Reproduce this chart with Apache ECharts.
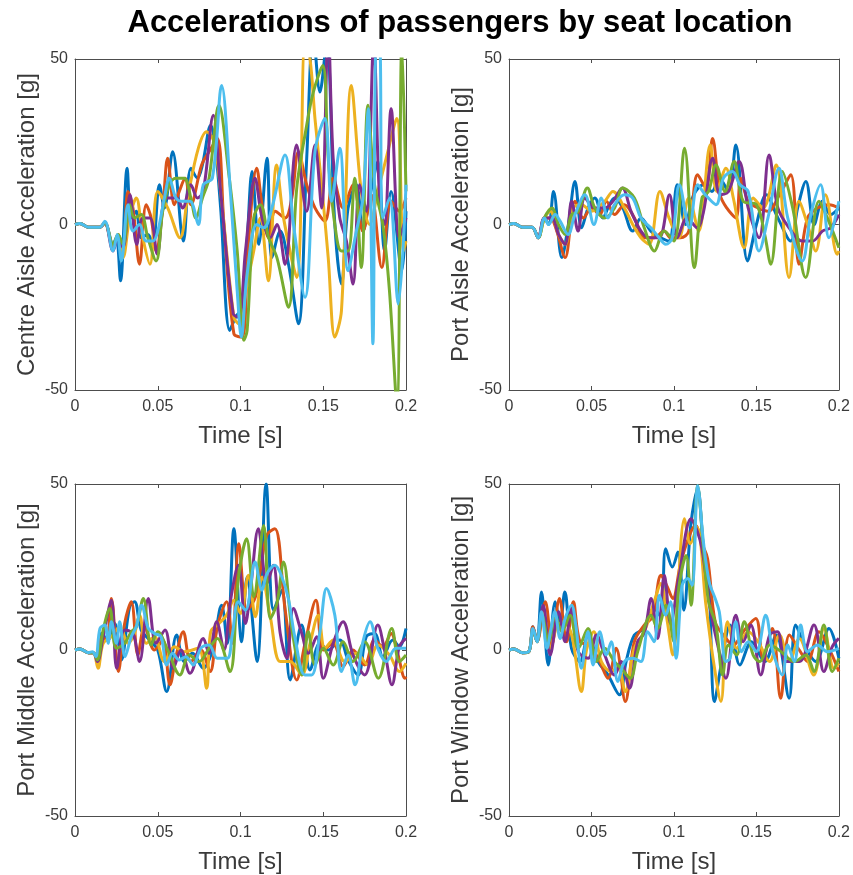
<!DOCTYPE html>
<html>
<head>
<meta charset="utf-8">
<title>Accelerations of passengers by seat location</title>
<script src="https://cdn.jsdelivr.net/npm/echarts@6/dist/echarts.min.js"></script>
<style>
	html, body { margin: 0; padding: 0; background: #fff; }
	#box { width: 853px; height: 875px; }
</style>
</head>
<body>
<div id="box"></div>
<script>
// points are [time in ms, acceleration in g]
var centreBlue = [[0,0],[3,0.3],[8,-0.8],[15,-0.8],[18,0.5],[23,-6],[25,-4],[27.5,-17],[31.5,17],[34,2],[37,4],[40,-4],[44,-3],[47,-6],[51,12],[54,5],[59,22],[65.5,-5],[70,17],[74,14],[77,18],[82,30],[85,22],[88,5],[93.5,-32],[97,-28],[101,-25],[104,-5],[107,16],[111,-6],[116,20],[119,-10],[124,-2],[129,-12],[135,-30],[140,20],[144,58],[148,40],[152,55],[157,0],[161,-18],[165,5],[170,12],[174,-2],[178,8],[183,19],[187,-8],[191,10],[197.5,-14],[200,4]];
var centreOrange = [[0,0],[3,0.3],[8,-0.8],[15,-0.8],[18,0.5],[23,-7],[26,-3],[29,-9],[32,10],[35,5],[39,-12],[43,6],[46,2],[49,-8],[53,5],[56,20],[60,6],[63,10],[66.5,14],[70,6],[76.5,18],[81,22],[86,26],[90,0],[96,-33],[101,-34],[104.7,-6],[109.8,17],[113,6],[117,-4],[121,4],[127,2],[131,8],[135,22],[140,12],[145,5],[151,1],[156,14],[162,5],[168,12],[174,-2],[179,9],[185.4,-13],[191,7],[196,4],[200,8]];
var centreYellow = [[0,0],[3,0.3],[8,-0.8],[15,-0.8],[18,0.5],[23,-7],[26,-3],[29,-10],[33,2],[37,8],[41,-4],[45.3,-12],[50,10],[56,5],[63.4,-4],[68,8],[74.5,23],[79.5,28],[84,25],[88,10],[96,-28],[99,-30],[104,-18],[108,-8],[112,2],[116.8,-17],[121.8,18],[126,2],[134,-16],[139,55],[142,50],[145,32],[149,12],[153,-10],[157,-34],[161,-26],[167,42],[173,10],[178,0],[183,10],[188,20],[194.4,32],[198.5,-8],[200,-5]];
var centrePurple = [[0,0],[3,0.3],[8,-0.8],[15,-0.8],[18,0.5],[23,-8],[26,-4],[29,-7],[33.2,9],[37.3,-6],[41,2],[45.3,2],[49.7,-9],[55,8],[61.4,8],[65,5],[70,12],[74,8],[77.5,10],[83.6,33],[88,10],[95.6,-27],[99,-28],[103,-8],[108.8,14],[113,2],[118,-4],[122,0],[126.9,-12],[133.9,24],[140,4],[145,24],[149,5],[153,58],[156,20],[160,2],[164,-5],[168,-18],[172,12],[176,4],[180.5,55],[184,8],[187,0],[191,35],[196,-4],[200,2]];
var centreGreen = [[0,0],[3,0.3],[8,-0.8],[15,-0.8],[18,0.5],[23,-6],[26,-3],[29,-6],[33,6],[36,2],[40,3],[44,-4],[49,-11],[53,4],[57,12],[61,14],[66,14],[70,8],[73,2],[77,8],[81,14],[87,36],[93,15],[98,-8],[102,-35],[104,-32],[108,2],[112,6],[117,-4],[122,-10],[129,-25],[134,11],[140,30],[144,40],[149.7,48],[153,20],[157,0],[161,-8],[165,-8],[169,14],[173,-13],[177,36],[181,12],[186,0],[190,-20],[194.5,-55],[197.5,55],[200,10]];
var centreCyan = [[0,0],[3,0.3],[8,-0.8],[15,-0.8],[18,1],[23,-8],[25.5,-3],[28,-11],[32,6],[35,-2],[39,0],[43,-5],[47,-5],[50,-2],[54,8],[57,14],[61,8],[65,7],[69.5,7],[74.5,0],[77.5,12],[83,14],[88.6,42],[94,9],[98,-20],[100.5,-34],[104,-15],[109.8,0],[114,-1],[119,5],[126.9,21],[132,0],[139,-22],[145,22],[151,32],[155,7],[160,23],[165,-14],[170,-2],[174,8],[177.2,35],[180,-36],[182,55],[184,55],[186,2],[190,8],[195.3,-24],[200,12]];

var aisleBlue = [[0,0],[3,0.3],[8,-0.8],[14,-0.8],[17.7,-4],[21.5,2],[24,0],[27,10],[32,-10],[36,0],[40,13],[44,-1],[48,5],[52,8],[57,2],[60,5],[64,8],[69,5],[75,-2],[80,2],[86,-2],[92,-4],[97,-5],[102,12],[107,0],[112,9],[118,12],[123,10],[127.5,14],[133,10],[137.5,24],[144.6,-11],[150,0],[156,9],[163,2],[170.8,-5],[175,5],[180,13],[185,0],[190,7],[195,3],[200,5]];
var aisleOrange = [[0,0],[3,0.3],[8,-0.8],[14,-0.8],[17.7,-4],[21.5,2],[25,2],[29,-2],[34,-10],[40,7],[45,2],[50,5],[55,3],[59,7],[64,3],[70,6],[76,2],[82,-4],[88,-4],[94,-2],[98,-4],[104,-4],[109,-2],[114.4,15],[119.4,11],[123.4,26],[128,9],[132,5],[137.5,2],[140.5,14],[145,7],[151,5],[157,4],[164,9],[170.8,15],[175.8,-12],[181,2],[187,5],[194,6],[200,5]];
var aisleYellow = [[0,0],[3,0.3],[8,-0.8],[14,-0.8],[17.7,-4],[21.5,2],[25,4],[30,-3],[34,-6],[39,5],[44,6],[50,4],[58,7],[63,10],[70,5],[75,0],[80,-4],[85,-6],[91.5,10],[97,2],[103,-4],[109,8],[115,-2],[122,24],[126,10],[131.5,17],[136,8],[142.6,-7],[148,8],[154,5],[162,18],[169.8,-16],[175.8,7],[181,0],[186,-8],[191.9,9],[199,-9],[200,-8]];
var aislePurple = [[0,0],[3,0.3],[8,-0.8],[14,-0.8],[17.7,-4],[21.5,2],[26,2],[30,-3],[34,-6],[38,7],[41.9,-2],[46,8],[52,5],[58,5],[63,7],[68.7,11],[74,4],[80,-2],[85,-4],[91,-4],[97.3,9],[102,-4],[108,2],[114,-1],[118,4],[123.5,20],[128,9],[133,10],[139.5,19],[145,5],[151.6,-4],[157.7,21],[163,5],[169.8,-1],[177.8,-5],[184,-5],[190,-2],[195,-1],[200,3]];
var aisleGreen = [[0,0],[3,0.3],[8,-0.8],[14,-0.8],[17.7,-4],[21.5,2],[26,5],[30,0],[34,-3],[38,3],[42,4],[47.5,11],[52,5],[58,2],[64,5],[69,11],[76,8],[82,-1],[88.2,-8],[94,-2],[100,-5],[106.4,23],[112.4,-13],[117,8],[121,10],[125.5,18],[131,10],[136.5,19],[142,7],[150,6],[155,-3],[158.7,-12],[165.7,16],[172,5],[179.9,-16],[187.9,7],[193,2],[200,-7]];
var aisleCyan = [[0,0],[3,0.3],[8,-0.8],[14,-0.8],[17.7,-4],[21.5,2],[24,0],[28,3],[31,1],[35.8,-3],[40,3],[46,9],[51.5,0],[56,8],[60,2],[64,6],[70,9],[75,8],[80,2],[86,-1],[91,-4],[95,-6],[99,-4],[103.3,12],[109.4,-1],[114.4,12],[119,9],[125.5,6],[130,14],[135.5,16],[140,12],[145,10],[151.6,-8],[157,2],[163.7,17],[169,2],[177.8,-11],[183,3],[188.9,12],[194,-4],[200,7]];

var middleBlue = [[0,0],[3,0.3],[8,-0.8],[11,-0.8],[13,-2],[16,5],[20,3],[24,8],[28,-3],[33,13],[36,14.5],[40,6],[45,3],[50,0],[55.4,-12.5],[61.4,4.5],[66,-3.5],[71,-1],[77.5,-5.5],[83,0],[88.6,13.5],[92,2],[96,36.5],[100.7,2.5],[104,22],[110,-3.5],[115.5,50],[120,12],[125,18],[130,-9],[137,7.5],[142,-6],[148,2],[153,0],[160,3],[165,-3],[171,-7.5],[176,4],[181,5],[186,-2],[192,3],[196,1],[200,6.5]];
var middleOrange = [[0,0],[3,0.3],[8,-0.8],[11,-0.8],[13,-2],[16,4],[19,3],[22,15.5],[26.2,-6.5],[30,8],[34,14.5],[38,-1.5],[42,7],[48,0],[53,3],[57.4,-10.5],[61,-2],[65.4,5.5],[70,-3.5],[76,0],[81.6,-6.5],[86,7],[91.6,14.5],[95,2],[99,32],[104,12],[109,16],[115.8,34.5],[120.8,36.5],[127,12],[134,-9],[139,2],[145.6,15],[150,0],[156,2],[162,-5],[168,0],[175,-4.5],[181,3],[186,1],[191,5],[195,-1],[199.4,-8.5],[200,-8]];
var middleYellow = [[0,0],[3,0.3],[8,-0.8],[11,-0.8],[13.9,-5.5],[17,2],[22,4],[27,7],[32,2],[36,5],[39,10.5],[43,2],[48,4],[54,-3.5],[60,1],[66,-0.5],[74.5,0.5],[79.5,-11.5],[82,5.5],[87,8],[91.6,10.5],[96,15],[100,11],[104.8,22.5],[109,10],[113,22],[118,10],[124,-3.5],[130,-3.5],[137,-7.5],[142,2],[147,10.5],[151,0.5],[156,3],[163,-3.5],[170,-1],[177,-4.5],[183,1.5],[190,-1.5],[196,-6.5],[200,-4]];
var middlePurple = [[0,0],[3,0.3],[8,-0.8],[11,-0.8],[13.5,-3.5],[17,4],[22,15],[25.2,-5.5],[30,6],[35,5],[39,-3.5],[44.3,15.5],[49,2],[54.4,6],[59.4,-5.5],[64,0],[69.5,-7],[77.5,3.5],[81,-1],[85.6,8.5],[90,0],[94,15],[98.7,25.5],[103,8],[106,18],[110.8,36.5],[116,20],[119.8,25.5],[124,5],[128,-2.5],[132,12.5],[137,5],[141,-1],[146,4],[150,-8.5],[156,2],[162,8.5],[168,-1.5],[175,-7.5],[183,7.5],[187,0],[191.5,-10.5],[196,1],[200,3.5]];
var middleGreen = [[0,0],[3,0.3],[8,-0.8],[11,-0.8],[13.5,-3],[17,6],[21,12.5],[25,0.5],[30,2],[34,5.5],[37,7],[41.3,15.5],[46,1.5],[50,5.5],[56,0],[63.4,-7.5],[69,-1.5],[75,-3.5],[81,0.5],[86,3.5],[93.6,-6.5],[98.7,21.5],[103.7,33.5],[108,16],[114,37.5],[118,9.5],[122,14],[126,26.5],[131,6.5],[137,-7.5],[141,5.5],[145,-4.5],[150,0.5],[156,-4.5],[162,2.5],[168,-3.5],[175,2.5],[183.3,-8.5],[191.4,6.5],[196,-3.5],[200,-1.5]];
var middleCyan = [[0,0],[3,0.3],[8,-0.8],[10.5,-0.5],[12.6,-2],[15.1,6.5],[18.1,7.5],[20,2],[22,8.5],[25,2],[27,8.5],[30.2,-2],[34,4],[37,7],[40.3,13.5],[44.3,6.5],[48,5],[52,4],[55.4,-4.5],[59,-1],[63,-3],[67,-2],[71.5,-4.5],[76,0.5],[81,1.5],[86,-2.5],[92,-2.5],[95,4.5],[98.7,14.5],[103,12],[108.8,26.5],[113,18],[116,23],[120.8,25.5],[125,22],[128.9,15.5],[133,3.5],[138.9,-7.5],[143,-7.5],[148,5.5],[152,18.5],[157,10.5],[161,-6.5],[165,-1.5],[169.2,-10.5],[174,2.5],[178.3,8.5],[183,0.5],[188,-3.5],[194,0.5],[200,0.5]];

var windowBlue = [[0,0],[3,0.3],[8,-0.8],[12,-0.5],[14.5,7],[17,2.5],[19.7,17.5],[23.8,-4.5],[28,14.5],[31,8],[33.8,17.5],[37.9,0.5],[43,-3.5],[48,4.5],[54,-3.5],[60,-7.5],[67,-13.5],[71,-3.5],[76,4.5],[82,6.5],[88,12.5],[92,10],[95,30.5],[99,25],[102.4,29.5],[106,12],[110.4,38.5],[114.4,48.5],[118,30],[121,22],[124.6,-15.5],[129,-3.5],[134,7.5],[140,-4.5],[147,2.5],[155,-3.5],[162,4.5],[169.8,-14.5],[173.8,7.5],[180,0.5],[186,-3.5],[194,6.5],[200,-2.5]];
var windowOrange = [[0,0],[3,0.3],[8,-0.8],[12,-0.5],[14.5,7],[17,2.5],[22,14.5],[26,1.5],[30.6,15.5],[35,2.5],[39,14.5],[43,2.5],[49,1.5],[55,-3.5],[60,-8.5],[65,0.5],[70.5,-15.5],[76,2.5],[82,7.5],[87,10],[92.2,22.5],[96,19],[99.3,15.5],[104,26],[109.4,34.5],[113,37.5],[117,32],[120.4,27.5],[125,8.5],[130,4.5],[136,1.5],[142,5.5],[149.6,9.5],[154,-2.5],[159.7,6.5],[164.7,-14.5],[170,4.5],[176,0],[181,-3.5],[187.9,5.5],[194,0.5],[200,-6.5]];
var windowYellow = [[0,0],[3,0.3],[8,-0.8],[12,-0.5],[14.5,6],[17,3],[20.7,11.5],[25,0.5],[29,7],[33,8.5],[38,4.5],[43.9,-12.5],[47,0],[51.4,5.5],[56,-3.5],[62,-6.5],[66,-5],[70.5,-12.5],[76,0.5],[82,5.5],[88,14.5],[92,20],[96,8.5],[99.3,-1.5],[106.4,39.5],[110,32],[114,37],[119.4,13.5],[124,-3.5],[128.5,-15.5],[132.5,8.5],[138,0.5],[145,5.5],[151,2.5],[158,-3.5],[164,4.5],[170,-3.5],[176,3.5],[184.8,-7.5],[191,6.5],[197,-5.5],[200,-4]];
var windowPurple = [[0,0],[3,0.3],[8,-0.8],[12,-0.5],[14.5,6],[17,2.5],[20.7,13.5],[25,-1.5],[30,11.5],[34,2.5],[38,12.5],[42,-0.5],[48,-2.5],[53,4.5],[58,-1.5],[64,-7.5],[68,-3.5],[73,-11.5],[78,2.5],[82,5],[86.2,15.5],[90.2,3.5],[94.2,22.5],[98,8],[103,22],[110.4,39.5],[114,36],[117,30.5],[122,12.5],[127,0.5],[131.5,-8.5],[137.5,10.5],[142,2.5],[146.6,7.5],[152.6,-7.5],[158,4.5],[162.7,5.5],[168,-3.5],[176,-3.5],[184.9,7.5],[190.9,-6.5],[196,1],[200,3.5]];
var windowGreen = [[0,0],[3,0.3],[8,-0.8],[12,-0.5],[14.5,6],[17,2.5],[20,10.5],[24,2.5],[28,10.5],[32,5.5],[37,10.5],[42,0.5],[47.9,6.5],[53,-3.5],[58,0.5],[64,-3.5],[68,-5.5],[73.5,-8.5],[78,-0.5],[86.2,10.5],[90,6.5],[95.2,13.5],[100,2.5],[103,19],[107.4,28.5],[110.4,13.5],[114.4,49.5],[118,30],[121,14.5],[125.5,7.5],[129.5,-7.5],[133,1.5],[138,-1.5],[142.6,8.5],[148,-1.5],[152,-3.5],[158,1.5],[165,-0.5],[173,-3.5],[180,-1.5],[184.9,-6.5],[190.9,7.5],[196,-6.5],[200,-2.5]];
var windowCyan = [[0,0],[3,0.3],[8,-0.8],[12,-0.5],[14.5,6.5],[17,2.5],[19.7,11.5],[23,0.5],[25.5,6.5],[27.8,11.5],[31,3.5],[34,9.5],[37.9,13.5],[40.5,7.5],[43.9,-5.5],[47.9,5.5],[51,-4.5],[55,5.5],[59,-1.5],[62,2.5],[66,-9.5],[70,-3.5],[75,-2.5],[80,-3.5],[84.1,5.5],[88,2.5],[91.2,16.5],[95,10.5],[98,14.5],[101.3,-2.5],[105,19.5],[108.4,21.5],[111,19.5],[114.4,49.5],[118,32],[121.4,20.5],[125,15.5],[127.5,11.5],[131.5,-3.5],[134,-2.5],[137.5,8.5],[141,-0.5],[145,2.5],[150,-0.5],[155.6,10.5],[160,-0.5],[165.7,-7.5],[169,1.5],[173,-3.5],[176.8,7.5],[181,-0.5],[187,1.5],[193,-0.5],[200,0.5]];

var yNames = ['Centre Aisle Acceleration [g]', 'Port Aisle Acceleration [g]', 'Port Middle Acceleration [g]', 'Port Window Acceleration [g]'];
var xTicks = [0, 0.05, 0.1, 0.15, 0.2];
var yTicks = [-50, 0, 50];
var seatColors = ['#0072BD', '#D95319', '#EDB120', '#7E2F8E', '#77AC30', '#4DBEEE'];

var panelLines = [
	[centreBlue, centreOrange, centreYellow, centrePurple, centreGreen, centreCyan],
	[aisleBlue, aisleOrange, aisleYellow, aislePurple, aisleGreen, aisleCyan],
	[middleBlue, middleOrange, middleYellow, middlePurple, middleGreen, middleCyan],
	[windowBlue, windowOrange, windowYellow, windowPurple, windowGreen, windowCyan]
];

var gridBoxes = [[75, 59, 331, 331], [509, 59, 331, 331], [75, 484, 331, 332], [509, 484, 331, 332]];

bindData('box');

function toSeconds(points) {
	return points.map(function (p) {
		return [p[0] / 1000, p[1]];
	});
}

function bindData(eleIdName) {
	var myChart = echarts.init(document.getElementById(eleIdName));
	var font = '"Liberation Sans", Arial, Helvetica, sans-serif';
	var axisColor = '#4d4d4d';
	var textColor = '#3a3a3a';
	var xStep = xTicks[1] - xTicks[0];
	var yStep = yTicks[1] - yTicks[0];

	var grids = [], xAxes = [], yAxes = [], series = [];

	for (var i = 0; i < gridBoxes.length; i++) {
		var b = gridBoxes[i];
		grids.push({left: b[0], top: b[1], width: b[2], height: b[3], containLabel: false});

		var line = {show: true, onZero: false, lineStyle: {color: axisColor, width: 1}};
		var tick = {show: true, inside: true, length: 4, lineStyle: {color: axisColor, width: 1}};

		xAxes.push({
			type: 'value', gridIndex: i, position: 'bottom',
			min: xTicks[0], max: xTicks[xTicks.length - 1], interval: xStep,
			name: 'Time [s]', nameLocation: 'middle', nameGap: 34,
			nameTextStyle: {fontSize: 24, color: textColor, fontFamily: font},
			axisLine: line, axisTick: tick, splitLine: {show: false},
			axisLabel: {
				margin: 9, fontSize: 16, color: textColor, fontFamily: font,
				formatter: function (v) { return String(Math.round(v * 100) / 100); }
			}
		});
		// box on: ticks on the top edge too
		xAxes.push({
			type: 'value', gridIndex: i, position: 'top',
			min: xTicks[0], max: xTicks[xTicks.length - 1], interval: xStep,
			axisLine: line, axisTick: tick, splitLine: {show: false},
			axisLabel: {show: false}
		});

		yAxes.push({
			type: 'value', gridIndex: i, position: 'left',
			min: yTicks[0], max: yTicks[yTicks.length - 1], interval: yStep,
			name: yNames[i], nameLocation: 'middle', nameGap: 36,
			nameTextStyle: {fontSize: 24, color: textColor, fontFamily: font},
			axisLine: line, axisTick: tick, splitLine: {show: false},
			axisLabel: {margin: 7, fontSize: 16, color: textColor, fontFamily: font}
		});
		yAxes.push({
			type: 'value', gridIndex: i, position: 'right',
			min: yTicks[0], max: yTicks[yTicks.length - 1], interval: yStep,
			axisLine: line, axisTick: tick, splitLine: {show: false},
			axisLabel: {show: false}
		});

		for (var k = 0; k < panelLines[i].length; k++) {
			series.push({
				type: 'line',
				xAxisIndex: i * 2,
				yAxisIndex: i * 2,
				data: toSeconds(panelLines[i][k]),
				smooth: 0.35,
				showSymbol: false,
				clip: true,
				lineStyle: {color: seatColors[k], width: 3},
				itemStyle: {color: seatColors[k]}
			});
		}
	}

	var option = {
		animation: false,
		backgroundColor: '#fff',
		graphic: [{
			type: 'text',
			x: 460,
			y: 23,
			style: {
				text: 'Accelerations of passengers by seat location',
				x: 0, y: 0,
				textAlign: 'center',
				textVerticalAlign: 'middle',
				fontSize: 31,
				fontWeight: 'bold',
				fontFamily: font,
				fill: '#000'
			}
		}],
		grid: grids,
		xAxis: xAxes,
		yAxis: yAxes,
		series: series
	};
	myChart.setOption(option);
}
</script>
</body>
</html>
